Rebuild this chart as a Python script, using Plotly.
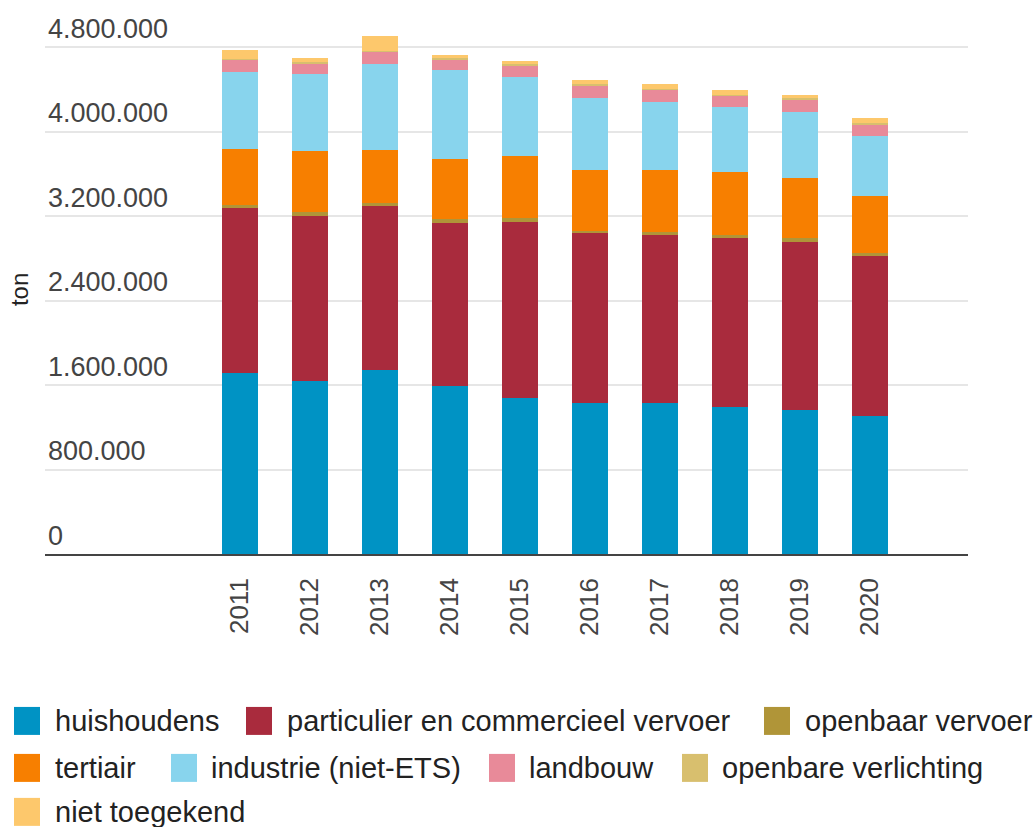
import plotly.graph_objects as go

# CO2 emissions per sector (ton), 2011-2020
years = ["2011", "2012", "2013", "2014", "2015", "2016", "2017", "2018", "2019", "2020"]

huishoudens = [1711000, 1641000, 1742000, 1590000, 1480000, 1432000, 1432000, 1394000, 1363000, 1309000]
particulier_vervoer = [1571000, 1562000, 1555000, 1546000, 1666000, 1604000, 1588000, 1600000, 1594000, 1512000]
openbaar_vervoer = [28000, 35000, 32000, 35000, 32000, 25000, 26000, 26000, 32000, 31000]
tertiair = [530000, 578000, 502000, 575000, 590000, 574000, 589000, 599000, 577000, 540000]
industrie = [725000, 726000, 814000, 836000, 751000, 685000, 647000, 616000, 616000, 570000]
landbouw = [117000, 104000, 110000, 104000, 110000, 120000, 117000, 104000, 123000, 109000]
openbare_verlichting = [11000, 11000, 10000, 10000, 10000, 10000, 10000, 10000, 10000, 9000]
niet_toegekend = [85000, 37000, 139000, 28000, 31000, 37000, 40000, 44000, 30000, 50000]

y_ticks = [0, 800000, 1600000, 2400000, 3200000, 4000000, 4800000]
y_tick_labels = ["0", "800.000", "1.600.000", "2.400.000", "3.200.000", "4.000.000", "4.800.000"]

series = [
    ("huishoudens", huishoudens, "#0093c4"),
    ("particulier en commercieel vervoer", particulier_vervoer, "#a92b3d"),
    ("openbaar vervoer", openbaar_vervoer, "#b09538"),
    ("tertiair", tertiair, "#f77f00"),
    ("industrie (niet-ETS)", industrie, "#88d4ed"),
    ("landbouw", landbouw, "#e88a99"),
    ("openbare verlichting", openbare_verlichting, "#d8bf6e"),
    ("niet toegekend", niet_toegekend, "#fdc86c"),
]

W, H = 1035, 827
L, R, B = 45, 968, 554          # plot edges in pixels
Y_TOP = 5200000                  # value at the top of the plot area
PX_PER_UNIT = 507 / 4800000      # vertical scale
T = B - Y_TOP * PX_PER_UNIT

fig = go.Figure()
for name, vals, color in series:
    fig.add_trace(go.Bar(
        x=years, y=vals, name=name,
        marker=dict(color=color, line=dict(width=0)),
        showlegend=False,
    ))


def px_x(px):
    return (px - L) / (R - L)


def px_y(py):
    return (B - py) / (B - T)


# Legend drawn as swatches + text, laid out in three rows
legend_items = [
    (0, 14, 53), (1, 246, 285), (2, 764, 803),
    (3, 14, 53), (4, 171, 209), (5, 489, 527), (6, 682, 720),
    (7, 14, 53),
]
row_y = {0: 721, 1: 721, 2: 721, 3: 768, 4: 768, 5: 768, 6: 768, 7: 812}

shapes = []
annotations = []
for idx, sx, tx in legend_items:
    name, _, color = series[idx]
    cy = row_y[idx]
    shapes.append(dict(
        type="rect", xref="paper", yref="paper",
        x0=px_x(sx), x1=px_x(sx + 26), y0=px_y(cy + 14), y1=px_y(cy - 14),
        fillcolor=color, line=dict(width=0),
    ))
    annotations.append(dict(
        text=name, xref="paper", yref="paper",
        x=px_x(tx), y=px_y(cy), xanchor="left", yanchor="middle",
        showarrow=False, font=dict(size=29, color="#222222"),
    ))

annotations.append(dict(
    text="ton", xref="paper", yref="paper",
    x=px_x(19), y=px_y(290), xanchor="center", yanchor="middle",
    textangle=-90, showarrow=False, font=dict(size=24, color="#222222"),
))

fig.update_layout(
    width=W, height=H,
    margin=dict(l=L, r=W - R, t=T, b=H - B, pad=0),
    barmode="stack",
    bargap=0.485,
    plot_bgcolor="white", paper_bgcolor="white",
    font=dict(family="Liberation Sans, Arial, sans-serif", color="#444444"),
    shapes=shapes,
    annotations=annotations,
    xaxis=dict(
        type="category",
        range=[(L - 240) / 70, (R - 240) / 70],
        showgrid=False,
        showline=True, linecolor="#444444", linewidth=1.5,
        ticks="", tickangle=-90,
        tickfont=dict(size=26, color="#444444"),
        ticklabelstandoff=12,
        fixedrange=True,
    ),
    yaxis=dict(
        range=[0, Y_TOP],
        tickvals=y_ticks, ticktext=y_tick_labels,
        ticklabelposition="inside top",
        tickfont=dict(size=27, color="#444444"),
        showgrid=True, gridcolor="#e6e6e6", gridwidth=1.5,
        zeroline=False, showline=False, ticks="",
        fixedrange=True,
    ),
)

fig.write_html("out.html")
